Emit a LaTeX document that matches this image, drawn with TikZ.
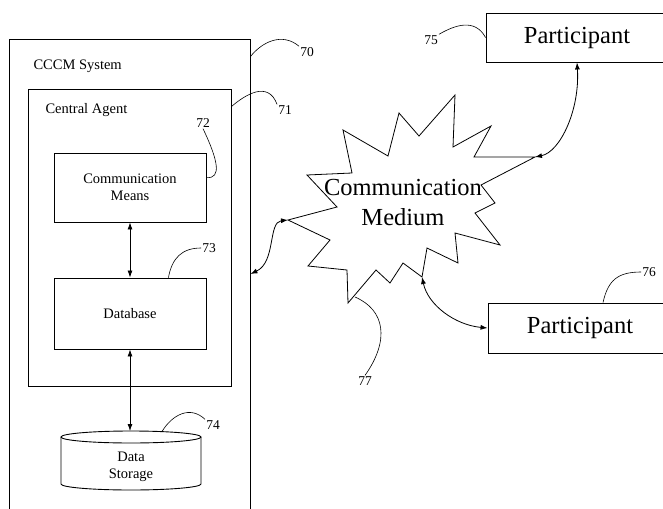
\documentclass[tikz,border=0pt]{standalone}
\usepackage{fontspec}
\setmainfont{Liberation Serif}
\usetikzlibrary{arrows.meta}

\tikzset{
  box/.style={draw, line width=0.9pt, inner sep=0pt},
  smalltext/.style={font=\fontsize{14.5}{17}\selectfont, align=center},
  bigtext/.style={font=\fontsize{24.5}{30}\selectfont, align=center},
  num/.style={font=\fontsize{13.5}{15}\selectfont, inner sep=1pt},
  link/.style={{Latex[length=7pt,width=5pt]}-{Latex[length=7pt,width=5pt]}, line width=0.8pt},
  lead/.style={line width=0.6pt}
}

\begin{document}
\begin{tikzpicture}[x=1pt, y=-1pt]

\useasboundingbox (0, 0) rectangle (663, 508);
\clip (0, 0) rectangle (663, 508);

\draw (129.5, 280) node[box, minimum width=241pt, minimum height=482pt] (cccm){};
\draw (30, 66) node[smalltext, anchor=west] (cccmtext){CCCM System};

\draw (129.5, 237.5) node[box, minimum width=203pt, minimum height=297pt] (agent){};
\draw (42, 110) node[smalltext, anchor=west] (agenttext){Central Agent};

\draw (130, 187.5) node[box, smalltext, minimum width=152pt, minimum height=69pt] (comm){Communication\\Means};

\draw (130, 313.5) node[box, smalltext, minimum width=152pt, minimum height=71pt] (db){Database};

% data storage cylinder
\draw[line width=0.9pt] (131, 437) ellipse [x radius=70, y radius=6];
\draw[line width=0.9pt] (61, 437) -- (61, 484) arc[start angle=180, end angle=0, x radius=70, y radius=6] -- (201, 437);
\draw (131, 466.5) node[smalltext] (storage){Data\\Storage};
\coordinate (storetop) at (130, 431);
\coordinate (storelead) at (162, 431.5);

\draw (577, 37.5) node[box, bigtext, minimum width=182pt, minimum height=49pt] (p75){Participant};

\draw (580, 328) node[box, bigtext, minimum width=184pt, minimum height=50pt] (p76){Participant};

% communication medium
\draw[line width=0.8pt] (455, 95) -- (453, 147) -- (491, 126) -- (474, 157)
  -- (535, 157) coordinate (tipR) -- (481, 185) -- (495, 203) -- (475, 213)
  -- (500, 245) -- (455, 233) -- (458, 263) -- (427, 248)
  -- (422, 277) coordinate (tipB) -- (403, 263) -- (390, 283) -- (376, 270)
  -- (348, 303) -- (347, 270) -- (308, 266) -- (330, 240)
  -- (288, 220) coordinate (tipL) -- (337, 207) -- (307, 175) -- (352, 173)
  -- (343, 130) -- (388, 156) -- (399, 113) -- (419, 136) -- cycle;
\coordinate (c77) at (355, 297);
\draw (403, 203) node[bigtext] (medium){Communication\\Medium};

\draw (307, 52) node[num] (l70){70};
\draw (285, 110) node[num] (l71){71};
\draw (203, 123) node[num] (l72){72};
\draw (209, 248) node[num] (l73){73};
\draw (213, 425) node[num] (l74){74};
\draw (431, 40) node[num] (l75){75};
\draw (649, 272) node[num] (l76){76};
\draw (365, 381) node[num] (l77){77};

\draw[link] (comm.south) -- (db.north);
\draw[link] (db.south) -- (db.south |- storetop);
\draw[link] (tipL) .. controls (268, 222) and (276, 262) .. ([yshift=6pt]cccm.east);
\draw[link] (tipR) .. controls (560, 152) and (580, 110) .. (p75.south);
\draw[link] (tipB) .. controls (428, 305) and (455, 325) .. (p76.west);

\draw[lead] ([yshift=-18pt]cccm.north east) .. controls (262, 42) and (282, 32) .. (l70.north west);
\draw[lead] ([yshift=-18pt]agent.north east) .. controls (245, 95) and (268, 80) .. (l71.north west);
\draw[lead] ([yshift=-25pt]comm.north east) .. controls (222, 179) and (218, 160) .. (l72.south);
\draw[lead] ([xshift=-38pt]db.north east) .. controls (172, 258) and (182, 248) .. (l73.west);
\draw[lead] (storelead) .. controls (172, 415) and (190, 405) .. (l74.north west);
\draw[lead] (l75.north east) .. controls (455, 25) and (475, 18) .. (p75.west);
\draw[lead] ([xshift=23pt]p76.north) .. controls (608, 280) and (618, 272) .. (l76.west);
\draw[lead] (c77) .. controls (385, 310) and (390, 340) .. (l77.north);

\end{tikzpicture}
\end{document}
